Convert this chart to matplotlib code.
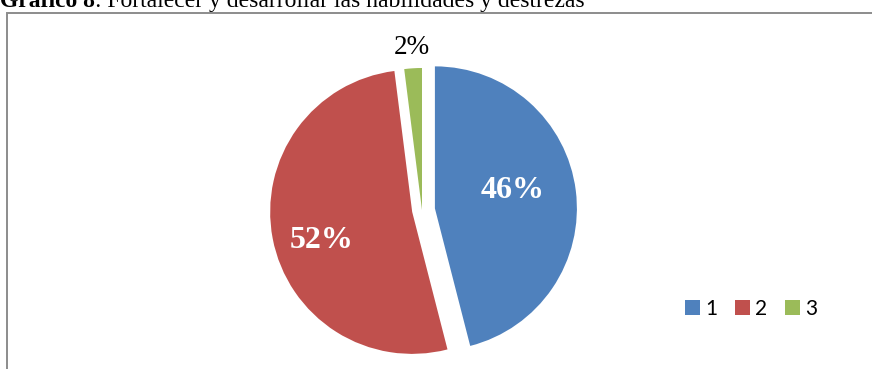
"""Pie chart: Gráfico 8, fortalecer y desarrollar las habilidades y destrezas."""

import matplotlib

matplotlib.use("Agg")

from matplotlib import pyplot as plt  # noqa: E402
import numpy as np  # noqa: E402

categories = ["1", "2", "3"]
values = [46, 52, 2]
colors = ["#4F81BD", "#C0504D", "#9BBB59"]

title_bold = "Gráfico 8"
title_rest = ": Fortalecer y desarrollar las habilidades y destrezas"

W, H = 872, 369
RADIUS = 142
CENTER = (422, H - 210)
# pie() takes explode as an absolute offset in data units (pixels here)
EXPLODE_PX = [13, 10, 0]

fig = plt.figure(figsize=(W / 100, H / 100), dpi=100)
ax = fig.add_axes([0, 0, 1, 1])

wedges, _ = ax.pie(
    values,
    colors=colors,
    explode=EXPLODE_PX,
    startangle=90,
    counterclock=False,
    radius=RADIUS,
    center=CENTER,
    wedgeprops={"linewidth": 0},
)

# pie() resets the limits, so fix the pixel-sized data space afterwards
ax.set_xlim(0, W)
ax.set_ylim(0, H)
ax.set_aspect("equal")
ax.axis("off")

# chart frame (only left and top edges fall inside the image)
ax.plot([7, 7, W + 5], [-5, H - 13, H - 13], color="#8c8c8c", lw=1.4,
        clip_on=False, solid_joinstyle="miter")

# data labels: white bold inside the big slices, black outside the small one
# (radial distance as a fraction of the radius, angle nudge off the bisector)
label_dist = [0.565, 0.67, 1.15]
label_turn = [6, 7, 0]
label_style = [
    {"color": "white", "fontweight": "bold", "fontsize": 23},
    {"color": "white", "fontweight": "bold", "fontsize": 23},
    {"color": "black", "fontweight": "normal", "fontsize": 19.5},
]
for wedge, val, dist, turn, style in zip(wedges, values, label_dist,
                                         label_turn, label_style):
    mid = np.deg2rad((wedge.theta1 + wedge.theta2) / 2 + turn)
    cx, cy = wedge.center
    ax.text(cx + dist * RADIUS * np.cos(mid), cy + dist * RADIUS * np.sin(mid),
            f"{val}%", ha="center", va="center",
            family="Liberation Serif", **style)

ax.legend(
    wedges, categories,
    loc="center left", bbox_to_anchor=(685, H - 309),
    bbox_transform=ax.transData,
    ncol=3, frameon=False,
    prop={"family": "Lato", "size": 15},
    handlelength=0.72, handleheight=0.72,
    handletextpad=0.25, columnspacing=0.85, borderpad=0, borderaxespad=0,
)

# title sits partly above the top edge
t1 = fig.text(0, H - 7, title_bold, transform=None, family="Liberation Serif",
              fontweight="bold", fontsize=17, va="baseline", ha="left")
ax.annotate(title_rest, xy=(1, 0), xycoords=t1, va="bottom", ha="left",
            family="Liberation Serif", fontsize=17, annotation_clip=False)

fig.savefig("out.png", dpi=100)
